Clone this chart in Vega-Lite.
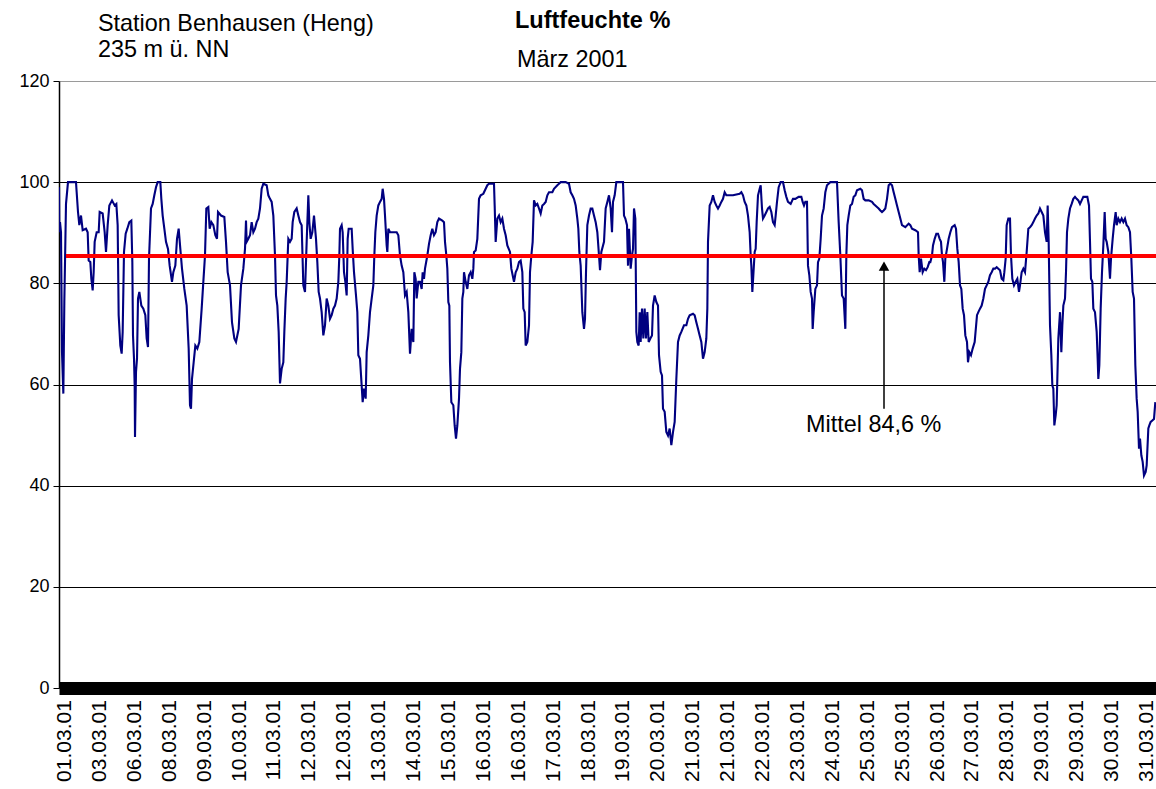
{
"$schema": "https://vega.github.io/schema/vega-lite/v6.json",
"width": 1097, "height": 607,
"autosize": "none",
"padding": {"left": 59, "top": 81, "right": 0, "bottom": 101},
"background": "white",
"config": {"view": {"stroke": null}, "font": "Liberation Sans"},
"datasets": {
"rh": [
{"t":0,"rh":99.0},{"t":1,"rh":90.1},{"t":3,"rh":92.1},{"t":6,"rh":90.1},{"t":9,"rh":66.4},{"t":13,"rh":58.2},{"t":16,"rh":76.3},{"t":21,"rh":95.7},{"t":27,"rh":100},{"t":51,"rh":100},{"t":53,"rh":98.0},{"t":57,"rh":94.1},{"t":61,"rh":91.5},{"t":66,"rh":93.4},{"t":71,"rh":90.5},{"t":81,"rh":90.8},{"t":86,"rh":90.1},{"t":89,"rh":84.5},{"t":94,"rh":84.2},{"t":97,"rh":80.9},{"t":101,"rh":78.6},{"t":104,"rh":82.2},{"t":107,"rh":88.2},{"t":113,"rh":90.1},{"t":119,"rh":90.1},{"t":122,"rh":94.1},{"t":131,"rh":93.8},{"t":137,"rh":90.1},{"t":141,"rh":86.2},{"t":146,"rh":91.5},{"t":151,"rh":95.4},{"t":159,"rh":96.4},{"t":167,"rh":95.4},{"t":172,"rh":95.7},{"t":176,"rh":91.5},{"t":179,"rh":73.7},{"t":184,"rh":67.7},{"t":188,"rh":66.1},{"t":191,"rh":70.4},{"t":195,"rh":86.2},{"t":200,"rh":89.8},{"t":205,"rh":90.8},{"t":211,"rh":92.1},{"t":217,"rh":92.4},{"t":220,"rh":84.2},{"t":222,"rh":69.7},{"t":225,"rh":65.1},{"t":227,"rh":59.8},{"t":228,"rh":49.6},{"t":231,"rh":62.5},{"t":234,"rh":65.1},{"t":237,"rh":77.0},{"t":241,"rh":78.3},{"t":247,"rh":75.6},{"t":253,"rh":75.0},{"t":259,"rh":73.7},{"t":263,"rh":69.1},{"t":267,"rh":67.4},{"t":270,"rh":84.9},{"t":276,"rh":94.8},{"t":281,"rh":95.7},{"t":286,"rh":97.4},{"t":291,"rh":99.0},{"t":296,"rh":100},{"t":304,"rh":100},{"t":307,"rh":96.7},{"t":311,"rh":93.4},{"t":316,"rh":90.8},{"t":321,"rh":88.2},{"t":327,"rh":86.8},{"t":332,"rh":83.5},{"t":339,"rh":80.3},{"t":343,"rh":82.2},{"t":349,"rh":83.5},{"t":354,"rh":88.8},{"t":359,"rh":90.8},{"t":364,"rh":86.8},{"t":369,"rh":82.9},{"t":376,"rh":78.9},{"t":383,"rh":75.6},{"t":389,"rh":67.1},{"t":393,"rh":55.9},{"t":396,"rh":55.2},{"t":399,"rh":61.1},{"t":404,"rh":64.4},{"t":409,"rh":67.7},{"t":415,"rh":67.1},{"t":421,"rh":68.4},{"t":428,"rh":75.0},{"t":433,"rh":80.3},{"t":438,"rh":85.5},{"t":442,"rh":94.8},{"t":448,"rh":95.1},{"t":452,"rh":90.8},{"t":457,"rh":92.1},{"t":463,"rh":91.5},{"t":469,"rh":89.5},{"t":474,"rh":88.8},{"t":477,"rh":94.1},{"t":486,"rh":93.4},{"t":496,"rh":93.1},{"t":501,"rh":88.2},{"t":506,"rh":82.2},{"t":513,"rh":79.6},{"t":519,"rh":72.3},{"t":526,"rh":69.1},{"t":531,"rh":68.4},{"t":539,"rh":71.0},{"t":546,"rh":79.6},
{"t":553,"rh":82.9},{"t":558,"rh":86.8},{"t":561,"rh":92.4},{"t":563,"rh":88.2},{"t":568,"rh":88.8},{"t":573,"rh":89.5},{"t":578,"rh":92.1},{"t":583,"rh":90.1},{"t":588,"rh":90.8},{"t":593,"rh":92.1},{"t":598,"rh":92.8},{"t":603,"rh":94.8},{"t":608,"rh":98.7},{"t":613,"rh":99.7},{"t":623,"rh":99.4},{"t":628,"rh":97.4},{"t":633,"rh":96.7},{"t":638,"rh":96.1},{"t":643,"rh":93.4},{"t":648,"rh":85.5},{"t":651,"rh":77.6},{"t":655,"rh":75.6},{"t":659,"rh":70.4},{"t":663,"rh":60.2},{"t":668,"rh":63.1},{"t":673,"rh":64.4},{"t":676,"rh":70.4},{"t":680,"rh":77.0},{"t":683,"rh":80.3},{"t":688,"rh":88.8},{"t":693,"rh":88.2},{"t":698,"rh":88.8},{"t":701,"rh":92.1},{"t":706,"rh":94.1},{"t":713,"rh":94.8},{"t":718,"rh":93.4},{"t":723,"rh":92.1},{"t":728,"rh":91.5},{"t":733,"rh":79.6},{"t":738,"rh":78.3},{"t":743,"rh":88.2},{"t":748,"rh":97.4},{"t":751,"rh":92.1},{"t":755,"rh":88.8},{"t":760,"rh":90.1},{"t":765,"rh":93.4},{"t":771,"rh":88.8},{"t":775,"rh":84.2},{"t":779,"rh":78.3},{"t":783,"rh":77.0},{"t":788,"rh":74.3},{"t":793,"rh":69.7},{"t":798,"rh":71.7},{"t":803,"rh":77.0},{"t":808,"rh":75.6},{"t":813,"rh":73.0},{"t":818,"rh":73.7},{"t":823,"rh":75.0},{"t":828,"rh":75.6},{"t":833,"rh":77.0},{"t":838,"rh":80.3},{"t":841,"rh":85.5},{"t":843,"rh":90.8},{"t":848,"rh":91.5},{"t":851,"rh":90.1},{"t":855,"rh":82.2},{"t":859,"rh":80.3},{"t":863,"rh":77.6},{"t":866,"rh":88.8},{"t":869,"rh":90.8},{"t":878,"rh":90.8},{"t":881,"rh":86.8},{"t":885,"rh":82.2},{"t":891,"rh":77.6},{"t":895,"rh":74.3},{"t":898,"rh":65.8},{"t":903,"rh":65.1},{"t":908,"rh":59.8},{"t":911,"rh":56.5},{"t":915,"rh":59.2},{"t":920,"rh":57.2},{"t":923,"rh":66.4},{"t":928,"rh":69.7},{"t":933,"rh":74.3},{"t":938,"rh":77.0},{"t":943,"rh":79.6},{"t":946,"rh":85.5},{"t":949,"rh":90.1},{"t":953,"rh":93.4},{"t":958,"rh":95.4},{"t":963,"rh":96.1},{"t":968,"rh":96.7},{"t":971,"rh":98.7},{"t":975,"rh":96.7},{"t":978,"rh":93.4},{"t":983,"rh":87.5},{"t":985,"rh":86.2},{"t":988,"rh":90.8},{"t":993,"rh":90.1},{"t":1003,"rh":90.1},{"t":1013,"rh":90.1},{"t":1018,"rh":89.5},{"t":1023,"rh":85.5},{"t":1028,"rh":83.5},{"t":1033,"rh":82.2},{"t":1038,"rh":77.6},{"t":1043,"rh":78.3},{"t":1048,"rh":74.3},{"t":1053,"rh":66.1},{"t":1058,"rh":71.0},{"t":1063,"rh":68.4},{"t":1066,"rh":82.2},{"t":1070,"rh":80.9},{"t":1073,"rh":77.0},{"t":1078,"rh":80.3},{"t":1083,"rh":80.3},{"t":1088,"rh":78.9},{"t":1091,"rh":82.2},{"t":1095,"rh":80.9},{"t":1098,"rh":82.9},
{"t":1105,"rh":85.5},{"t":1110,"rh":87.8},{"t":1115,"rh":89.5},{"t":1120,"rh":90.8},{"t":1125,"rh":89.5},{"t":1130,"rh":90.1},{"t":1135,"rh":92.1},{"t":1140,"rh":92.8},{"t":1150,"rh":92.4},{"t":1155,"rh":92.1},{"t":1158,"rh":88.2},{"t":1162,"rh":85.5},{"t":1165,"rh":82.9},{"t":1168,"rh":76.3},{"t":1171,"rh":75.6},{"t":1173,"rh":64.4},{"t":1177,"rh":56.5},{"t":1183,"rh":55.9},{"t":1187,"rh":51.9},{"t":1191,"rh":49.3},{"t":1195,"rh":51.9},{"t":1200,"rh":57.2},{"t":1203,"rh":63.1},{"t":1207,"rh":66.4},{"t":1210,"rh":77.0},{"t":1213,"rh":78.3},{"t":1215,"rh":82.2},{"t":1220,"rh":80.3},{"t":1225,"rh":78.9},{"t":1230,"rh":81.6},{"t":1235,"rh":82.2},{"t":1240,"rh":80.9},{"t":1243,"rh":82.9},{"t":1245,"rh":86.2},{"t":1250,"rh":86.5},{"t":1255,"rh":88.8},{"t":1260,"rh":96.7},{"t":1265,"rh":97.4},{"t":1273,"rh":97.7},{"t":1280,"rh":98.7},{"t":1285,"rh":99.4},{"t":1290,"rh":99.7},{"t":1305,"rh":99.7},{"t":1307,"rh":95.4},{"t":1310,"rh":88.2},{"t":1315,"rh":92.8},{"t":1320,"rh":93.4},{"t":1325,"rh":92.1},{"t":1330,"rh":92.8},{"t":1335,"rh":90.8},{"t":1340,"rh":89.5},{"t":1345,"rh":87.5},{"t":1353,"rh":86.2},{"t":1357,"rh":82.9},{"t":1361,"rh":81.6},{"t":1365,"rh":80.3},{"t":1370,"rh":82.2},{"t":1375,"rh":82.9},{"t":1380,"rh":84.2},{"t":1385,"rh":84.5},{"t":1390,"rh":82.2},{"t":1393,"rh":75.0},{"t":1397,"rh":74.3},{"t":1400,"rh":67.7},{"t":1405,"rh":68.4},{"t":1410,"rh":71.7},{"t":1413,"rh":82.2},{"t":1417,"rh":85.5},{"t":1421,"rh":88.2},{"t":1425,"rh":96.4},{"t":1430,"rh":95.4},{"t":1435,"rh":95.7},{"t":1440,"rh":94.8},{"t":1445,"rh":93.8},{"t":1450,"rh":95.4},{"t":1455,"rh":95.7},{"t":1460,"rh":96.1},{"t":1465,"rh":97.4},{"t":1470,"rh":98.0},{"t":1480,"rh":98.0},{"t":1485,"rh":98.7},{"t":1495,"rh":99.4},{"t":1500,"rh":99.7},{"t":1505,"rh":100},{"t":1520,"rh":100},{"t":1530,"rh":99.7},{"t":1535,"rh":98.0},{"t":1540,"rh":97.4},{"t":1545,"rh":96.7},{"t":1550,"rh":95.4},{"t":1555,"rh":92.8},{"t":1558,"rh":90.8},{"t":1561,"rh":86.2},{"t":1565,"rh":83.5},{"t":1570,"rh":74.3},{"t":1575,"rh":71.0},{"t":1578,"rh":73.0},{"t":1581,"rh":82.2},{"t":1585,"rh":91.5},{"t":1590,"rh":93.4},{"t":1595,"rh":94.8},{"t":1600,"rh":94.8},{"t":1605,"rh":93.4},{"t":1610,"rh":92.1},{"t":1615,"rh":90.1},{"t":1620,"rh":85.5},{"t":1623,"rh":82.6},{"t":1627,"rh":86.2},{"t":1635,"rh":88.2},{"t":1640,"rh":94.8},{"t":1645,"rh":96.1},{"t":1650,"rh":97.4},
{"t":1655,"rh":94.8},{"t":1659,"rh":90.1},{"t":1662,"rh":96.1},{"t":1667,"rh":97.4},{"t":1672,"rh":100},{"t":1692,"rh":100},{"t":1695,"rh":93.4},{"t":1699,"rh":92.8},{"t":1704,"rh":91.5},{"t":1707,"rh":83.5},{"t":1710,"rh":90.8},{"t":1715,"rh":82.9},{"t":1719,"rh":85.5},{"t":1722,"rh":86.8},{"t":1725,"rh":94.8},{"t":1729,"rh":92.8},{"t":1732,"rh":70.4},{"t":1735,"rh":68.4},{"t":1739,"rh":67.7},{"t":1742,"rh":74.3},{"t":1745,"rh":68.4},{"t":1749,"rh":75.0},{"t":1753,"rh":69.1},{"t":1757,"rh":75.0},{"t":1761,"rh":69.1},{"t":1765,"rh":74.3},{"t":1769,"rh":68.4},{"t":1774,"rh":69.1},{"t":1779,"rh":69.7},{"t":1782,"rh":75.6},{"t":1787,"rh":77.6},{"t":1792,"rh":76.3},{"t":1797,"rh":75.6},{"t":1800,"rh":65.8},{"t":1805,"rh":62.5},{"t":1809,"rh":61.8},{"t":1812,"rh":55.2},{"t":1817,"rh":54.6},{"t":1822,"rh":50.6},{"t":1827,"rh":49.9},{"t":1832,"rh":51.3},{"t":1837,"rh":48.0},{"t":1842,"rh":50.6},{"t":1847,"rh":52.6},{"t":1852,"rh":61.1},{"t":1857,"rh":68.4},{"t":1862,"rh":69.7},{"t":1867,"rh":70.4},{"t":1875,"rh":71.7},{"t":1882,"rh":71.7},{"t":1887,"rh":73.0},{"t":1892,"rh":73.7},{"t":1902,"rh":74.0},{"t":1907,"rh":73.7},{"t":1912,"rh":72.3},{"t":1917,"rh":71.0},{"t":1922,"rh":69.7},{"t":1927,"rh":68.4},{"t":1932,"rh":65.1},{"t":1937,"rh":66.4},{"t":1942,"rh":69.1},{"t":1945,"rh":75.0},{"t":1947,"rh":88.2},{"t":1952,"rh":95.4},{"t":1957,"rh":96.1},{"t":1962,"rh":97.4},{"t":1967,"rh":96.1},{"t":1972,"rh":95.4},{"t":1977,"rh":94.8},{"t":1982,"rh":95.4},{"t":1987,"rh":96.1},{"t":1992,"rh":96.7},{"t":1997,"rh":98.0},{"t":2002,"rh":97.4},{"t":2022,"rh":97.4},{"t":2042,"rh":97.7},{"t":2047,"rh":98.0},{"t":2052,"rh":97.4},{"t":2057,"rh":96.1},{"t":2062,"rh":95.4},{"t":2067,"rh":93.4},{"t":2072,"rh":90.1},{"t":2075,"rh":85.5},{"t":2077,"rh":83.5},{"t":2080,"rh":78.3},{"t":2083,"rh":81.6},{"t":2087,"rh":86.2},{"t":2090,"rh":86.8},{"t":2093,"rh":92.1},{"t":2097,"rh":97.4},{"t":2102,"rh":98.7},{"t":2105,"rh":99.4},{"t":2109,"rh":94.8},{"t":2112,"rh":92.8},{"t":2117,"rh":93.4},{"t":2122,"rh":94.1},{"t":2127,"rh":94.8},{"t":2132,"rh":95.1},{"t":2137,"rh":94.1},{"t":2142,"rh":92.1},{"t":2147,"rh":91.5},{"t":2150,"rh":93.4},{"t":2154,"rh":96.1},{"t":2159,"rh":99.0},{"t":2165,"rh":100},{"t":2172,"rh":100},{"t":2177,"rh":98.4},{"t":2182,"rh":97.1},{"t":2187,"rh":96.1},{"t":2195,"rh":95.7},{"t":2202,"rh":96.7},
{"t":2209,"rh":96.7},{"t":2219,"rh":97.1},{"t":2227,"rh":97.1},{"t":2231,"rh":96.1},{"t":2235,"rh":95.4},{"t":2239,"rh":96.1},{"t":2244,"rh":96.1},{"t":2247,"rh":83.5},{"t":2251,"rh":81.6},{"t":2255,"rh":78.3},{"t":2259,"rh":77.0},{"t":2261,"rh":71.0},{"t":2264,"rh":74.3},{"t":2269,"rh":78.9},{"t":2274,"rh":79.6},{"t":2277,"rh":84.2},{"t":2281,"rh":84.9},{"t":2285,"rh":88.8},{"t":2289,"rh":93.4},{"t":2294,"rh":94.8},{"t":2299,"rh":98.0},{"t":2304,"rh":99.4},{"t":2314,"rh":100},{"t":2334,"rh":100},{"t":2339,"rh":92.1},{"t":2344,"rh":85.5},{"t":2349,"rh":77.6},{"t":2354,"rh":77.0},{"t":2359,"rh":71.0},{"t":2362,"rh":85.5},{"t":2365,"rh":91.5},{"t":2369,"rh":93.4},{"t":2374,"rh":95.4},{"t":2379,"rh":95.7},{"t":2384,"rh":97.1},{"t":2389,"rh":97.4},{"t":2394,"rh":98.4},{"t":2404,"rh":98.7},{"t":2409,"rh":98.4},{"t":2414,"rh":96.7},{"t":2419,"rh":96.4},{"t":2429,"rh":96.4},{"t":2439,"rh":96.1},{"t":2444,"rh":95.7},{"t":2449,"rh":95.4},{"t":2454,"rh":95.1},{"t":2459,"rh":94.8},{"t":2464,"rh":94.4},{"t":2469,"rh":94.1},{"t":2474,"rh":94.4},{"t":2479,"rh":94.8},{"t":2484,"rh":96.7},{"t":2489,"rh":99.4},{"t":2494,"rh":99.7},{"t":2499,"rh":99.4},{"t":2504,"rh":98.0},{"t":2509,"rh":96.7},{"t":2514,"rh":95.4},{"t":2519,"rh":94.1},{"t":2524,"rh":92.8},{"t":2529,"rh":91.5},{"t":2539,"rh":91.1},{"t":2549,"rh":91.8},{"t":2554,"rh":91.5},{"t":2559,"rh":90.8},{"t":2569,"rh":90.5},{"t":2577,"rh":90.1},{"t":2579,"rh":85.5},{"t":2582,"rh":82.2},{"t":2586,"rh":84.9},{"t":2591,"rh":82.2},{"t":2596,"rh":82.9},{"t":2601,"rh":82.6},{"t":2606,"rh":83.2},{"t":2611,"rh":84.2},{"t":2614,"rh":84.2},{"t":2619,"rh":85.5},{"t":2622,"rh":87.5},{"t":2627,"rh":88.8},{"t":2632,"rh":89.8},{"t":2637,"rh":89.8},{"t":2642,"rh":88.8},{"t":2646,"rh":88.2},{"t":2649,"rh":85.5},{"t":2652,"rh":84.2},{"t":2656,"rh":80.3},{"t":2659,"rh":84.9},{"t":2664,"rh":86.8},{"t":2669,"rh":88.8},{"t":2674,"rh":90.1},{"t":2679,"rh":91.1},{"t":2687,"rh":91.5},{"t":2691,"rh":90.8},{"t":2695,"rh":86.8},{"t":2699,"rh":84.2},{"t":2703,"rh":79.6},{"t":2707,"rh":78.9},{"t":2711,"rh":75.0},{"t":2715,"rh":73.7},{"t":2719,"rh":69.7},{"t":2724,"rh":68.4},{"t":2727,"rh":64.4},{"t":2731,"rh":66.4},{"t":2736,"rh":65.8},{"t":2741,"rh":67.1},{"t":2747,"rh":68.4},{"t":2754,"rh":73.7},
{"t":2758,"rh":74.3},{"t":2763,"rh":75.0},{"t":2768,"rh":75.6},{"t":2773,"rh":77.0},{"t":2778,"rh":78.9},{"t":2783,"rh":79.6},{"t":2788,"rh":80.3},{"t":2793,"rh":81.6},{"t":2798,"rh":82.2},{"t":2803,"rh":82.9},{"t":2808,"rh":82.9},{"t":2813,"rh":83.2},{"t":2818,"rh":82.9},{"t":2823,"rh":82.6},{"t":2828,"rh":80.9},{"t":2833,"rh":80.6},{"t":2836,"rh":82.2},{"t":2840,"rh":84.9},{"t":2843,"rh":91.5},{"t":2848,"rh":92.8},{"t":2853,"rh":92.8},{"t":2856,"rh":85.5},{"t":2860,"rh":80.9},{"t":2865,"rh":79.6},{"t":2870,"rh":80.3},{"t":2875,"rh":80.9},{"t":2880,"rh":78.3},{"t":2883,"rh":79.6},{"t":2888,"rh":82.2},{"t":2893,"rh":82.9},{"t":2898,"rh":82.2},{"t":2903,"rh":86.2},{"t":2908,"rh":90.8},{"t":2913,"rh":91.1},{"t":2918,"rh":91.5},{"t":2923,"rh":92.1},{"t":2928,"rh":92.8},{"t":2933,"rh":93.4},{"t":2938,"rh":93.8},{"t":2943,"rh":94.8},{"t":2948,"rh":94.1},{"t":2953,"rh":93.4},{"t":2958,"rh":90.1},{"t":2963,"rh":88.2},{"t":2966,"rh":95.4},{"t":2969,"rh":88.2},{"t":2973,"rh":71.7},{"t":2977,"rh":65.8},{"t":2980,"rh":59.8},{"t":2983,"rh":59.2},{"t":2986,"rh":51.9},{"t":2990,"rh":53.9},{"t":2993,"rh":55.9},{"t":2998,"rh":69.1},{"t":3003,"rh":74.3},{"t":3007,"rh":66.4},{"t":3010,"rh":71.7},{"t":3013,"rh":75.6},{"t":3018,"rh":77.0},{"t":3021,"rh":82.2},{"t":3024,"rh":90.1},{"t":3028,"rh":92.8},{"t":3033,"rh":94.8},{"t":3038,"rh":95.7},{"t":3043,"rh":96.7},{"t":3048,"rh":97.1},{"t":3053,"rh":96.7},{"t":3058,"rh":96.4},{"t":3063,"rh":95.7},{"t":3068,"rh":96.4},{"t":3073,"rh":97.1},{"t":3085,"rh":97.1},{"t":3090,"rh":95.4},{"t":3093,"rh":88.2},{"t":3096,"rh":80.9},{"t":3100,"rh":80.3},{"t":3103,"rh":75.0},{"t":3108,"rh":74.3},{"t":3113,"rh":70.4},{"t":3116,"rh":65.1},{"t":3118,"rh":61.1},{"t":3121,"rh":63.8},{"t":3125,"rh":75.0},{"t":3129,"rh":82.2},{"t":3133,"rh":87.5},{"t":3137,"rh":94.1},{"t":3140,"rh":88.8},{"t":3143,"rh":88.2},{"t":3148,"rh":86.2},{"t":3153,"rh":80.9},{"t":3156,"rh":84.9},{"t":3161,"rh":88.8},{"t":3165,"rh":91.5},{"t":3170,"rh":94.1},{"t":3173,"rh":91.5},{"t":3178,"rh":92.8},{"t":3183,"rh":92.1},{"t":3188,"rh":92.8},{"t":3193,"rh":92.1},{"t":3198,"rh":92.8},{"t":3203,"rh":91.5},{"t":3208,"rh":91.1},{"t":3213,"rh":90.1},{"t":3217,"rh":84.9},{"t":3221,"rh":78.3},{"t":3225,"rh":77.0},{"t":3229,"rh":63.8},{"t":3233,"rh":57.2},{"t":3236,"rh":54.6},{"t":3240,"rh":47.3},{"t":3243,"rh":49.3},{"t":3247,"rh":46.0},{"t":3251,"rh":44.7},{"t":3255,"rh":42.0},{"t":3260,"rh":42.7},{"t":3263,"rh":44.0},{"t":3268,"rh":51.3},{"t":3271,"rh":51.9},{"t":3275,"rh":52.6},{"t":3280,"rh":52.9},{"t":3285,"rh":53.2},{"t":3289,"rh":56.5}
],
"dates": [
{"t":18,"d":"01.03.01"},{"t":123,"d":"03.03.01"},{"t":227,"d":"06.03.01"},{"t":332,"d":"08.03.01"},{"t":437,"d":"09.03.01"},{"t":542,"d":"10.03.01"},{"t":646,"d":"11.03.01"},{"t":751,"d":"12.03.01"},{"t":856,"d":"12.03.01"},{"t":960,"d":"13.03.01"},{"t":1065,"d":"14.03.01"},{"t":1170,"d":"15.03.01"},{"t":1274,"d":"16.03.01"},{"t":1379,"d":"16.03.01"},{"t":1484,"d":"17.03.01"},{"t":1589,"d":"18.03.01"},{"t":1693,"d":"19.03.01"},{"t":1798,"d":"20.03.01"},{"t":1903,"d":"21.03.01"},{"t":2007,"d":"21.03.01"},{"t":2112,"d":"22.03.01"},{"t":2217,"d":"23.03.01"},{"t":2321,"d":"24.03.01"},{"t":2426,"d":"25.03.01"},{"t":2531,"d":"25.03.01"},{"t":2636,"d":"26.03.01"},{"t":2740,"d":"27.03.01"},{"t":2845,"d":"28.03.01"},{"t":2950,"d":"29.03.01"},{"t":3054,"d":"29.03.01"},{"t":3159,"d":"30.03.01"},{"t":3264,"d":"31.03.01"}
],
"notes": [
{"t":117,"v":129.9,"label":"Station Benhausen (Heng)"},
{"t":117,"v":124.7,"label":"235 m ü. NN"},
{"t":1374,"v":122.8,"label":"März 2001"},
{"t":2241,"v":50.6,"label":"Mittel 84,6 %"}
],
"title": [{"t":1368,"v":130.5,"label":"Luftfeuchte %"}]
},
"layer": [
{
"data": {"name": "rh"},
"mark": {"type": "line", "color": "#000080", "strokeWidth": 2.1, "clip": true},
"encoding": {
"x": {"field": "t", "type": "quantitative",
 "scale": {"domain": [0, 3291], "nice": false, "zero": false},
 "axis": {"title": null, "grid": false, "ticks": false, "labels": false,
  "domainWidth": 13, "domainColor": "black"}},
"y": {"field": "rh", "type": "quantitative",
 "scale": {"domain": [0, 120], "nice": false},
 "axis": {"title": null, "values": [0,20,40,60,80,100,120],
  "grid": true, "gridWidth": 1,
  "gridColor": {"condition": {"test": "datum.value === 120", "value": "#9a9a9a"}, "value": "black"},
  "domainColor": "black", "domainWidth": 1.5, "tickColor": "black", "tickSize": 6,
  "labelFontSize": 18, "labelColor": "black", "labelFont": "Liberation Sans", "labelPadding": 4}}
}
},
{
"data": {"values": [{"mittel": 85.4}]},
"mark": {"type": "rule", "color": "#FF0000", "strokeWidth": 4},
"encoding": {
"y": {"field": "mittel", "type": "quantitative"},
"x": {"datum": 21, "type": "quantitative"},
"x2": {"datum": 3291}
}
},
{
"data": {"values": [{"a": 1}]},
"mark": {"type": "rule", "color": "black", "strokeWidth": 1.5},
"encoding": {
"x": {"datum": 2475, "type": "quantitative"},
"y": {"datum": 55.2, "type": "quantitative"},
"y2": {"datum": 83}
}
},
{
"data": {"values": [{"a": 1}]},
"mark": {"type": "point", "shape": "triangle-up", "filled": true, "color": "black", "size": 110, "opacity": 1},
"encoding": {
"x": {"datum": 2475, "type": "quantitative"},
"y": {"datum": 83.4, "type": "quantitative"}
}
},
{
"data": {"name": "dates"},
"mark": {"type": "text", "angle": 270, "align": "right", "baseline": "middle", "fontSize": 21, "font": "Liberation Sans", "color": "black"},
"encoding": {
"x": {"field": "t", "type": "quantitative"},
"y": {"datum": -2.4, "type": "quantitative"},
"text": {"field": "d"}
}
},
{
"data": {"name": "notes"},
"mark": {"type": "text", "align": "left", "baseline": "alphabetic", "fontSize": 23.4, "font": "Liberation Sans", "color": "black"},
"encoding": {
"x": {"field": "t", "type": "quantitative"},
"y": {"field": "v", "type": "quantitative"},
"text": {"field": "label"}
}
},
{
"data": {"name": "title"},
"mark": {"type": "text", "align": "left", "baseline": "alphabetic", "fontSize": 23.5, "fontWeight": "bold", "font": "Liberation Sans", "color": "black"},
"encoding": {
"x": {"field": "t", "type": "quantitative"},
"y": {"field": "v", "type": "quantitative"},
"text": {"field": "label"}
}
}
]
}
